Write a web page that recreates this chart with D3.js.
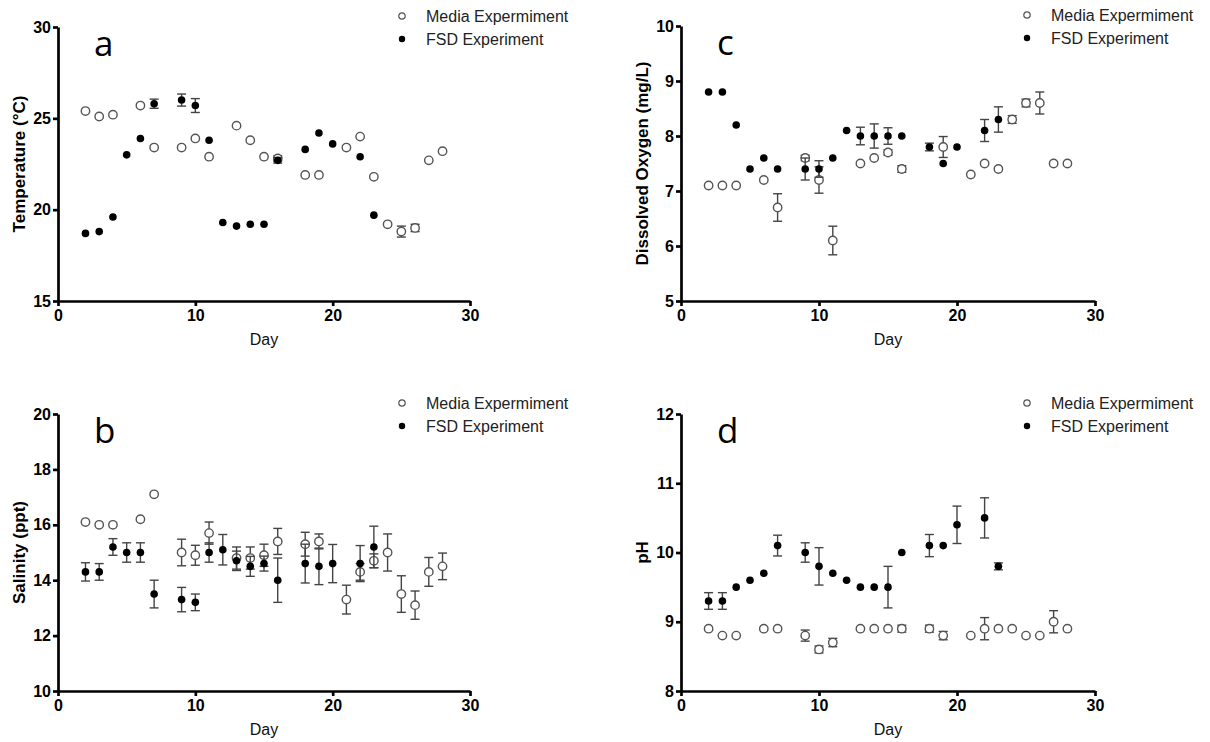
<!DOCTYPE html>
<meta charset="utf-8">
<script src="https://d3js.org/d3.v7.min.js"></script>
<style>
body { margin: 0; background: #fff; font-family: 'Liberation Sans', Arial, sans-serif; }
.axis path, .axis line { stroke: #000; stroke-width: 2.7; }
.axis text { font-family: 'Liberation Sans', Arial, sans-serif; font-size: 16px; font-weight: bold; fill: #000; }
</style>
<svg width="1210" height="742"></svg>
<script>
// [day, mean, error] -- error 0 means no bar drawn
var tempMedia = [[2,25.4,0],[3,25.1,0],[4,25.2,0],[6,25.7,0],[7,23.4,0],[9,23.4,0],[10,23.9,0],[11,22.9,0],
  [13,24.6,0],[14,23.8,0],[15,22.9,0],[16,22.8,0.15],[18,21.9,0],[19,21.9,0],[21,23.4,0],[22,24.0,0],
  [23,21.8,0],[24,19.2,0],[25,18.8,0.3],[26,19.0,0.2],[27,22.7,0],[28,23.2,0]];
var tempFsd = [[2,18.7,0],[3,18.8,0],[4,19.6,0],[5,23.0,0],[6,23.9,0],[7,25.8,0.25],[9,26.0,0.33],[10,25.7,0.38],
  [11,23.8,0],[12,19.3,0],[13,19.1,0],[14,19.2,0],[15,19.2,0],[16,22.7,0.15],[18,23.3,0],[19,24.2,0],
  [20,23.6,0],[22,22.9,0],[23,19.7,0]];

var salMedia = [[2,16.1,0],[3,16.0,0],[4,16.0,0],[6,16.2,0],[7,17.1,0],[9,15.0,0.48],[10,14.9,0.36],[11,15.7,0.4],
  [13,14.8,0.4],[14,14.8,0.4],[15,14.9,0.4],[16,15.4,0.47],[18,15.3,0.43],[19,15.4,0.27],[21,13.3,0.52],
  [22,14.3,0.3],[23,14.7,0.25],[24,15.0,0.67],[25,13.5,0.66],[26,13.1,0.51],[27,14.3,0.52],[28,14.5,0.48]];
var salFsd = [[2,14.3,0.33],[3,14.3,0.3],[4,15.2,0.3],[5,15.0,0.35],[6,15.0,0.35],[7,13.5,0.5],[9,13.3,0.44],
  [10,13.2,0.3],[11,15.0,0.35],[12,15.1,0.55],[13,14.7,0.35],[14,14.5,0.36],[15,14.6,0.27],[16,14.0,0.8],
  [18,14.6,0.7],[19,14.5,0.66],[20,14.6,0.69],[22,14.6,0.65],[23,15.2,0.75]];

var doMedia = [[2,7.1,0],[3,7.1,0],[4,7.1,0],[6,7.2,0],[7,6.7,0.25],[9,7.6,0.05],[10,7.2,0.24],[11,6.1,0.26],
  [13,7.5,0],[14,7.6,0],[15,7.7,0.05],[16,7.4,0.06],[19,7.8,0.19],[21,7.3,0],[22,7.5,0],[23,7.4,0],
  [24,8.3,0.07],[25,8.6,0.07],[26,8.6,0.2],[27,7.5,0],[28,7.5,0]];
var doFsd = [[2,8.8,0],[3,8.8,0],[4,8.2,0],[5,7.4,0],[6,7.6,0],[7,7.4,0],[9,7.4,0.2],[10,7.4,0.15],[11,7.6,0],
  [12,8.1,0],[13,8.0,0.16],[14,8.0,0.22],[15,8.0,0.15],[16,8.0,0],[18,7.8,0.07],[19,7.5,0],[20,7.8,0],
  [22,8.1,0.2],[23,8.3,0.23]];

var phMedia = [[2,8.9,0],[3,8.8,0],[4,8.8,0],[6,8.9,0],[7,8.9,0],[9,8.8,0.08],[10,8.6,0.05],[11,8.7,0.06],
  [13,8.9,0],[14,8.9,0],[15,8.9,0],[16,8.9,0.05],[18,8.9,0.05],[19,8.8,0.06],[21,8.8,0],[22,8.9,0.16],
  [23,8.9,0],[24,8.9,0],[25,8.8,0],[26,8.8,0],[27,9.0,0.16],[28,8.9,0]];
var phFsd = [[2,9.3,0.12],[3,9.3,0.12],[4,9.5,0],[5,9.6,0],[6,9.7,0],[7,10.1,0.15],[9,10.0,0.14],[10,9.8,0.27],
  [11,9.7,0],[12,9.6,0],[13,9.5,0],[14,9.5,0],[15,9.5,0.3],[16,10.0,0],[18,10.1,0.16],[19,10.1,0],
  [20,10.4,0.27],[22,10.5,0.29],[23,9.8,0.05]];

var dayTicks = [0, 10, 20, 30];
var seriesNames = ["Media Expermiment", "FSD Experiment"];

var panels = [
  {letter: "a", title: "Temperature (\u00b0C)", x0: 58, x1: 470, y0: 27, y1: 301, ydom: [15, 30], yticks: [15, 20, 25, 30], media: tempMedia, fsd: tempFsd},
  {letter: "b", title: "Salinity (ppt)", x0: 58, x1: 470, y0: 414, y1: 691, ydom: [10, 20], yticks: [10, 12, 14, 16, 18, 20], media: salMedia, fsd: salFsd},
  {letter: "c", title: "Dissolved Oxygen (mg/L)", x0: 681, x1: 1095, y0: 26, y1: 301, ydom: [5, 10], yticks: [5, 6, 7, 8, 9, 10], media: doMedia, fsd: doFsd},
  {letter: "d", title: "pH", x0: 681, x1: 1095, y0: 414, y1: 691, ydom: [8, 12], yticks: [8, 9, 10, 11, 12], media: phMedia, fsd: phFsd}
];

var svg = d3.select("svg");

panels.forEach(function(p) {
  var g = svg.append("g");
  var x = d3.scaleLinear().domain([0, 30]).range([p.x0, p.x1]);
  var y = d3.scaleLinear().domain(p.ydom).range([p.y1, p.y0]);

  // axes
  g.append("g").attr("class", "axis")
    .attr("transform", "translate(0," + p.y1 + ")")
    .call(d3.axisBottom(x).tickValues(dayTicks).tickFormat(d3.format("d")).tickSize(5).tickSizeOuter(0).tickPadding(4));
  g.append("g").attr("class", "axis")
    .attr("transform", "translate(" + p.x0 + ",0)")
    .call(d3.axisLeft(y).tickValues(p.yticks).tickFormat(d3.format("d")).tickSize(5).tickSizeOuter(0).tickPadding(2));

  // axis titles
  g.append("text")
    .attr("x", (p.x0 + p.x1) / 2).attr("y", p.y1 + 44)
    .attr("text-anchor", "middle")
    .attr("font-size", 16).attr("fill", "#111")
    .text("Day");
  g.append("text")
    .attr("transform", "translate(" + (p.x0 - 33) + "," + ((p.y0 + p.y1) / 2) + ") rotate(-90)")
    .attr("text-anchor", "middle")
    .attr("font-size", 17).attr("font-weight", "bold")
    .text(p.title);

  // panel letter
  g.append("text")
    .attr("x", p.x0 + 36).attr("y", p.y0 + 29)
    .attr("font-family", "'Open Sans', sans-serif")
    .attr("font-size", 35)
    .text(p.letter);

  // error bars + markers
  function errBars(data) {
    var eb = g.append("g").attr("stroke", "#444").attr("stroke-width", 1.4)
      .selectAll("g").data(data.filter(function(d) { return d[2] > 0; }))
      .enter().append("g");
    eb.append("line")
      .attr("x1", function(d) { return x(d[0]); }).attr("x2", function(d) { return x(d[0]); })
      .attr("y1", function(d) { return y(d[1] - d[2]); }).attr("y2", function(d) { return y(d[1] + d[2]); });
    eb.append("line")
      .attr("x1", function(d) { return x(d[0]) - 4.5; }).attr("x2", function(d) { return x(d[0]) + 4.5; })
      .attr("y1", function(d) { return y(d[1] + d[2]); }).attr("y2", function(d) { return y(d[1] + d[2]); });
    eb.append("line")
      .attr("x1", function(d) { return x(d[0]) - 4.5; }).attr("x2", function(d) { return x(d[0]) + 4.5; })
      .attr("y1", function(d) { return y(d[1] - d[2]); }).attr("y2", function(d) { return y(d[1] - d[2]); });
  }

  errBars(p.media);
  g.append("g").selectAll("circle").data(p.media).enter().append("circle")
    .attr("cx", function(d) { return x(d[0]); })
    .attr("cy", function(d) { return y(d[1]); })
    .attr("r", 4.2)
    .attr("fill", "#fff").attr("stroke", "#555").attr("stroke-width", 1.4);

  errBars(p.fsd);
  g.append("g").selectAll("circle").data(p.fsd).enter().append("circle")
    .attr("cx", function(d) { return x(d[0]); })
    .attr("cy", function(d) { return y(d[1]); })
    .attr("r", 3.8)
    .attr("fill", "#000");

  // legend
  var leg = g.append("g").selectAll("g").data(seriesNames).enter().append("g")
    .attr("transform", function(d, i) { return "translate(" + (p.x1 - 68) + "," + (p.y0 - 11 + i * 23) + ")"; });
  leg.append("circle")
    .attr("r", 3.2)
    .attr("fill", function(d, i) { return i ? "#000" : "#fff"; })
    .attr("stroke", function(d, i) { return i ? "none" : "#555"; })
    .attr("stroke-width", 1.2);
  leg.append("text")
    .attr("x", 24).attr("dy", "0.35em")
    .attr("font-size", 16).attr("fill", "#222")
    .text(function(d) { return d; });
});
</script>
